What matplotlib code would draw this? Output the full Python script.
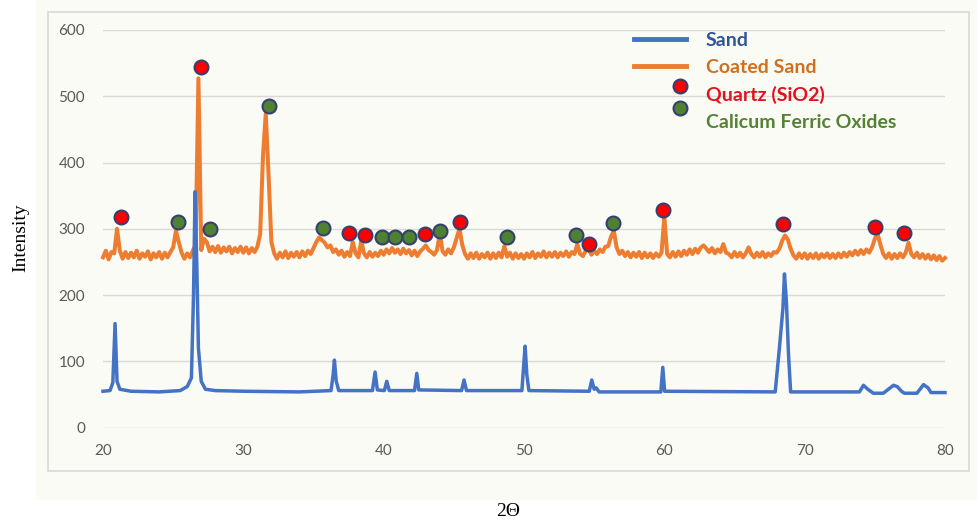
import numpy as np
import matplotlib
matplotlib.use("Agg")
import matplotlib.pyplot as plt
from matplotlib.patches import Rectangle
from matplotlib.lines import Line2D
from matplotlib.legend_handler import HandlerLine2D
from matplotlib.transforms import Affine2D

# ---------------- data ----------------
# Sand (blue) pattern: vertices
sand_x = [20.0, 20.5, 20.7, 20.86, 21.0, 21.2, 22.0, 24.0, 25.5, 26.0, 26.3, 26.45, 26.56, 26.68, 26.8, 27.0, 27.3,
          28.0, 30.0, 34.0, 36.25, 36.4, 36.49, 36.62, 36.8, 39.2, 39.39, 39.55, 40.05, 40.22, 40.4, 42.2, 42.36,
          42.5, 45.55, 45.73, 45.9, 49.85, 49.98, 50.08, 50.2, 50.35, 54.65, 54.83, 55.0, 55.15, 55.35, 59.75,
          59.89, 60.02, 67.9, 68.2, 68.45, 68.56, 68.7, 68.85, 69.0, 73.9, 74.19, 74.5, 74.9, 75.6, 76.33, 76.6,
          76.9, 77.1, 78.0, 78.47, 78.8, 79.0, 80.0]
sand_y = [55, 56, 68, 157, 70, 58, 55, 54, 56, 62, 75, 200, 356, 250, 120, 70, 58,
          56, 55, 54, 56, 80, 102, 70, 56, 56, 84, 57, 56, 70, 56, 56, 82,
          57, 56, 72, 56, 56, 95, 123, 80, 56, 55, 72, 58, 60, 54, 54,
          91, 55, 54, 120, 180, 232, 190, 110, 54, 54, 64, 58, 52, 52, 64, 62,
          55, 52, 52, 65, 60, 53, 53]

# Coated sand (orange) pattern, one value every 0.2 deg from 20.0 to 80.0
coated_start, coated_step = 20.0, 0.2
coated_y = [
    257, 267, 254, 265, 263, 300, 267, 255, 265, 256,   # 20.0-21.8
    264, 257, 267, 255, 263, 258, 266, 254, 263, 257,   # 22.0-23.8
    265, 255, 264, 257, 265, 272, 297, 280, 264, 255,   # 24.0-25.8
    263, 257, 267, 276, 527, 268, 285, 280, 266, 273,   # 26.0-27.8
    265, 274, 264, 272, 266, 273, 263, 271, 265, 273,   # 28.0-29.8
    264, 272, 263, 271, 265, 273, 292, 410, 474, 380,   # 30.0-31.8
    280, 263, 255, 264, 257, 266, 256, 264, 258, 265,   # 32.0-33.8
    257, 266, 259, 267, 262, 271, 280, 287, 283, 279,   # 34.0-35.8
    272, 275, 265, 269, 261, 267, 258, 265, 259, 280,   # 36.0-37.8
    263, 257, 282, 263, 257, 265, 258, 264, 259, 267,   # 38.0-39.8
    261, 269, 263, 271, 264, 269, 262, 270, 263, 268,   # 40.0-41.8
    260, 267, 259, 266, 270, 275, 268, 265, 261, 268,   # 42.0-43.8
    292, 266, 261, 269, 263, 272, 286, 300, 276, 262,   # 44.0-45.8
    255, 263, 256, 264, 255, 262, 257, 264, 255, 263,   # 46.0-47.8
    256, 264, 257, 274, 258, 264, 255, 263, 256, 262,   # 48.0-49.8
    255, 263, 257, 265, 256, 263, 258, 266, 257, 264,   # 50.0-51.8
    258, 265, 257, 264, 259, 266, 258, 265, 262, 277,   # 52.0-53.8
    262, 259, 267, 270, 261, 267, 262, 269, 265, 273,   # 54.0-55.8
    274, 288, 297, 272, 262, 267, 259, 265, 257, 264,   # 56.0-57.8
    258, 265, 256, 264, 257, 263, 256, 263, 258, 264,   # 58.0-59.8
    318, 262, 257, 265, 258, 266, 259, 267, 261, 269,   # 60.0-61.8
    262, 270, 264, 272, 275, 270, 265, 271, 263, 269,   # 62.0-63.8
    265, 277, 264, 262, 257, 265, 258, 264, 257, 263,   # 64.0-65.8
    272, 262, 257, 264, 258, 265, 257, 263, 259, 265,   # 66.0-67.8
    264, 270, 282, 290, 284, 270, 260, 255, 263, 256,   # 68.0-69.8
    263, 255, 262, 256, 263, 255, 262, 257, 263, 256,   # 70.0-71.8
    262, 256, 263, 257, 264, 258, 265, 260, 267, 261,   # 72.0-73.8
    268, 262, 269, 264, 272, 285, 292, 276, 262, 256,   # 74.0-75.8
    263, 255, 262, 256, 263, 257, 264, 279, 262, 257,   # 76.0-77.8
    264, 256, 262, 255, 261, 254, 260, 253, 259, 252,   # 78.0-79.8
    256,                                                # 80.0
]
coated_x = coated_start + coated_step * np.arange(len(coated_y))

# Phase markers
quartz_x = [21.28, 27.0, 37.53, 38.65, 42.97, 45.45, 54.64, 59.9, 68.44, 75.02, 77.1]
quartz_y = [318, 544, 293, 291, 292, 311, 277, 328, 307, 303, 293]
cfo_x = [25.37, 27.6, 31.85, 35.7, 39.86, 40.81, 41.79, 44.02, 48.77, 53.69, 56.33]
cfo_y = [311, 300, 485, 301, 287, 287, 288, 297, 287, 291, 309]

x_ticks = [20, 30, 40, 50, 60, 70, 80]
y_ticks = [0, 100, 200, 300, 400, 500, 600]

# ---------------- style ----------------
W, H = 978, 523
cream = "#FBFBF5"
blue = "#4472C4"
orange = "#ED7D31"
red = "#FF0000"
green = "#4F8132"
edge = "#34406E"
grey_txt = "#595959"
ui_font = ["Lato", "DejaVu Sans"]


class ShiftedHandler(HandlerLine2D):
    """Legend handler that offsets its artist by (dx, dy) display pixels."""
    def __init__(self, dx, dy, **kw):
        super().__init__(**kw)
        self.dx, self.dy = dx, dy

    def create_artists(self, legend, orig_handle, xdescent, ydescent, width, height,
                       fontsize, trans):
        arts = super().create_artists(legend, orig_handle, xdescent, ydescent, width,
                                      height, fontsize, trans)
        for a in arts:
            a.set_transform(a.get_transform() + Affine2D().translate(self.dx, self.dy))
        return arts


fig = plt.figure(figsize=(W / 100, H / 100), dpi=100)
fig.patch.set_facecolor("white")
fig.patches.append(Rectangle((36 / W, 23 / H), 942 / W, 500 / H, transform=fig.transFigure,
                             facecolor=cream, edgecolor="none", zorder=0))
fig.patches.append(Rectangle((48 / W, (H - 471) / H), (969 - 48) / W, (471 - 12) / H,
                             transform=fig.transFigure, facecolor=cream, edgecolor="#D9D9D9",
                             linewidth=1.2, zorder=0.5))

ax = fig.add_axes([103 / W, (H - 427.7) / H, 842 / W, 397.7 / H])
ax.set_zorder(2)
ax.set_facecolor("none")
ax.set_xlim(20, 80)
ax.set_ylim(0, 600)
for s in ax.spines.values():
    s.set_visible(False)
ax.set_xticks(x_ticks)
ax.set_yticks(y_ticks)
ax.tick_params(length=0, labelsize=11, labelcolor=grey_txt)
ax.tick_params(axis="y", pad=13)
ax.tick_params(axis="x", pad=12)
for lab in ax.get_xticklabels() + ax.get_yticklabels():
    lab.set_family(ui_font)
ax.yaxis.grid(True, color="#D9D9D9", linewidth=1)
ax.set_axisbelow(True)

ax.plot(coated_x, coated_y, color=orange, linewidth=2.9, zorder=2, clip_on=False,
        solid_joinstyle="round")
ax.plot(sand_x, sand_y, color=blue, linewidth=2.5, zorder=3, clip_on=False,
        solid_joinstyle="round")
ax.plot(quartz_x, quartz_y, linestyle="none", marker="o", markersize=10,
        markerfacecolor=red, markeredgecolor=edge, markeredgewidth=1.5, zorder=4, clip_on=False)
ax.plot(cfo_x, cfo_y, linestyle="none", marker="o", markersize=10,
        markerfacecolor=green, markeredgecolor=edge, markeredgewidth=1.5, zorder=4, clip_on=False)

h_sand = Line2D([], [], color=blue, linewidth=3.5)
h_coat = Line2D([], [], color=orange, linewidth=3.5)
h_qz = Line2D([], [], linestyle="none", marker="o", markersize=10, markerfacecolor=red,
              markeredgecolor=edge, markeredgewidth=1.5)
h_cfo = Line2D([], [], linestyle="none", marker="o", markersize=10, markerfacecolor=green,
               markeredgecolor=edge, markeredgewidth=1.5)
labels = ["Sand", "Coated Sand", "Quartz (SiO2)", "Calicum Ferric Oxides"]
leg = fig.legend([h_sand, h_coat, h_qz, h_cfo], labels, loc="upper left",
                 bbox_to_anchor=(634 / W, 1 - 32 / H),
                 bbox_transform=fig.transFigure, frameon=False, borderpad=0, borderaxespad=0,
                 handlelength=2.7, handletextpad=1.0, labelspacing=0.52,
                 prop={"family": ui_font, "weight": "bold", "size": 14},
                 handler_map={h_qz: ShiftedHandler(20, 8), h_cfo: ShiftedHandler(20, 14)})
leg.set_zorder(5)
for t, c in zip(leg.get_texts(), ["#2F5597", "#D0701F", "#E3101E", "#548235"]):
    t.set_color(c)

fig.text(21 / W, 1 - 238 / H, "Intensity", rotation=90, ha="center", va="center",
         family="Liberation Serif", size=14, color="black")
fig.text(508 / W, 1 - 511 / H, "2Θ", ha="center", va="center",
         family="Liberation Serif", size=14, color="black")

fig.savefig("out.png", dpi=100, facecolor="white")
